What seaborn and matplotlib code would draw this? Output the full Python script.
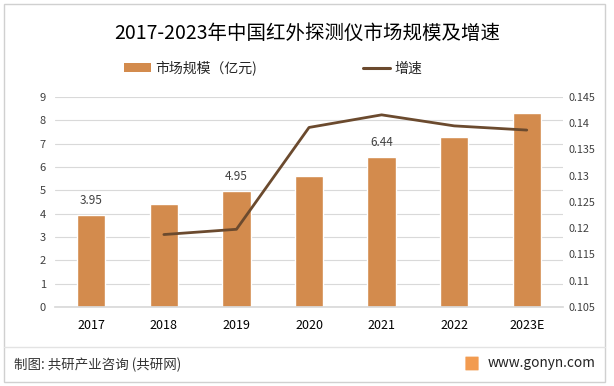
import matplotlib
matplotlib.use("Agg")
import matplotlib.pyplot as plt
import seaborn as sns
import numpy as np
import pandas as pd
from matplotlib.patches import Patch, Rectangle, FancyBboxPatch
from matplotlib.lines import Line2D

years = ["2017", "2018", "2019", "2020", "2021", "2022", "2023E"]
market_size = [3.95, 4.40, 4.95, 5.62, 6.44, 7.30, 8.33]
growth = [np.nan, 0.1188, 0.1198, 0.1392, 0.1416, 0.1395, 0.1387]
labeled_years = ["2017", "2019", "2021"]
left_ticks = list(range(0, 10))
right_ticks = [0.105, 0.11, 0.115, 0.12, 0.125, 0.13, 0.135, 0.14, 0.145]

sns.set_theme(style="white")
plt.rcParams['font.family'] = ['Noto Sans CJK SC', 'DejaVu Sans']

BAR = "#D38B4D"
LINE = "#6B4A2E"
TXT = "#404040"

fig = plt.figure(figsize=(6.14, 3.86), dpi=100)
ax = fig.add_axes([0.0896, 0.2047, 0.8274, 0.5440])

df = pd.DataFrame({"year": years, "size": market_size, "growth": growth})
df["pos"] = np.arange(len(years))

sns.barplot(data=df, x="year", y="size", color=BAR, saturation=1, width=0.39, ax=ax, zorder=2)
ax.set_ylim(0, 9)
ax.set_yticks(left_ticks)
ax.set_yticklabels([str(t) for t in left_ticks], fontsize=8, color=TXT)
ax.set_xlabel("")
ax.set_ylabel("")
ax.tick_params(axis="x", labelsize=9, colors="#000000", length=0, pad=9)
ax.tick_params(axis="y", length=0, pad=6.5)
ax.grid(axis="y", color="#D9D9D9", linewidth=0.8, zorder=0)
ax.set_axisbelow(True)
for s in ["top", "right", "left"]:
    ax.spines[s].set_visible(False)
ax.spines["bottom"].set_color("#D9D9D9")
ax.set_xlim(-0.5, len(years) - 0.5)

for i, (y, v) in enumerate(zip(years, market_size)):
    if y in labeled_years:
        ax.text(i, v + 0.35, f"{v:.2f}", ha="center", va="bottom", fontsize=8.5, color=TXT)

ax2 = ax.twinx()
sns.lineplot(data=df.dropna(), x="pos", y="growth", color=LINE, linewidth=2.0, ax=ax2)
ax2.set_ylim(0.105, 0.145)
ax2.set_yticks(right_ticks)
ax2.set_yticklabels([f"{t:g}" for t in right_ticks], fontsize=7.8, color=TXT)
ax2.tick_params(axis="y", length=0, pad=3.6)
ax2.set_ylabel("")
ax2.set_xlabel("")
for s in ["top", "right", "left", "bottom"]:
    ax2.spines[s].set_visible(False)
ax2.grid(False)
ax.set_xlim(-0.5, len(years) - 0.5)

fig.text(0.5, 1 - 33 / 386, "2017-2023年中国红外探测仪市场规模及增速", ha="center", va="center",
         fontsize=14, color="#000000")

handles = [Patch(facecolor=BAR, edgecolor="none"), Line2D([0], [0], color=LINE, linewidth=2.2)]
fig.legend(handles, ["市场规模（亿元)", "增速"], loc="center", bbox_to_anchor=(273 / 614, 1 - 68 / 386),
           ncol=2, frameon=False, fontsize=10, columnspacing=7.7, handlelength=1.9,
           handleheight=0.6, handletextpad=0.3)

# outer border and footer separator
fig.add_artist(Rectangle((4 / 614, 4 / 386), 601 / 614, 378 / 386, transform=fig.transFigure,
                         fill=False, edgecolor="#D0D0D0", linewidth=1))
fig.add_artist(Line2D([4 / 614, 605 / 614], [1 - 347 / 386, 1 - 347 / 386], transform=fig.transFigure,
                      color="#E3E3E3", linewidth=1))
fig.text(14 / 614, 1 - 365 / 386, "制图: 共研产业咨询 (共研网)", ha="left", va="center",
         fontsize=9.7, color="#333333")
fig.add_artist(FancyBboxPatch((466 / 614, 1 - 370 / 386), 12 / 614, 13 / 386,
                              boxstyle="round,pad=0.001", transform=fig.transFigure,
                              facecolor="#F29B50", edgecolor="none"))
fig.text(488 / 614, 1 - 363 / 386, "www.gonyn.com", ha="left", va="center", fontsize=9.8, color="#222222")

fig.savefig("out.png", dpi=100)
